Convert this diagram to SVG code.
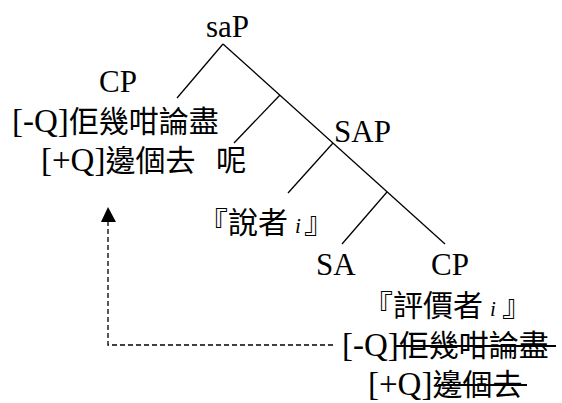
<svg xmlns="http://www.w3.org/2000/svg" width="562" height="403" viewBox="0 0 562 403">
<style>
text,tspan{fill:#000}
.lbl{font-family:"Liberation Serif","Times New Roman",serif;font-size:31px}
.ft{font-family:"Liberation Serif","Noto Sans CJK TC",serif;font-size:33px}
.cjk{font-family:"Noto Sans CJK TC","Noto Sans CJK SC",sans-serif;font-weight:400;font-size:30px}
.it{font-family:"Liberation Serif",serif;font-style:italic;font-size:21px}
.edge{stroke:#000;stroke-width:1.3;fill:none}
.strike{stroke:#000;stroke-width:2;fill:none}
.dash{stroke:#000;stroke-width:1.3;fill:none;stroke-dasharray:5 3}
.gray{opacity:0.999}
</style>
<g id="connectors">
<line class="edge" x1="223" y1="44" x2="177" y2="98"/>
<line class="edge" x1="223" y1="44" x2="445" y2="244"/>
<line class="edge" x1="280" y1="95" x2="234" y2="143"/>
<line class="edge" x1="333" y1="143" x2="288" y2="193"/>
<line class="edge" x1="387" y1="192" x2="342" y2="244"/>
<path class="dash" d="M333,345 L108,345 L108,222"/>
<path d="M108,207 L101,222 L116,222 Z" fill="#000"/>
</g>
<g id="saP"><text class="lbl" x="206" y="37">saP</text></g>
<g id="CP-top">
<text class="lbl" x="99" y="92">CP</text>
<text class="ft" x="12" y="132">[-Q]<tspan class="cjk">佢幾咁論盡</tspan></text>
<text class="ft" x="41" y="171">[+Q]<tspan class="cjk">邊個去</tspan><tspan class="cjk" x="216">呢</tspan></text>
</g>
<g id="SAP"><text class="lbl" x="334" y="142">SAP</text></g>
<g id="speaker" class="gray">
<text class="cjk" x="198" y="233">『說者</text>
<text class="it" x="295" y="233">i</text>
<text class="cjk" x="304" y="233">』</text>
</g>
<g id="SA"><text class="lbl" x="316" y="275">SA</text></g>
<g id="CP-low">
<text class="lbl" x="431" y="275">CP</text>
<g class="gray">
<text class="cjk" x="363" y="316">『評價者</text>
<text class="it" x="490" y="316">i</text>
<text class="cjk" x="502" y="316">』</text>
</g>
<text class="ft" x="342" y="356">[-Q]<tspan class="cjk">佢幾咁論盡</tspan></text>
<line class="strike" x1="396" y1="346" x2="556" y2="346"/>
<text class="ft" x="368" y="395">[+Q]<tspan class="cjk">邊個去</tspan></text>
<line class="strike" x1="438" y1="385" x2="527" y2="385"/>
</g>
</svg>
